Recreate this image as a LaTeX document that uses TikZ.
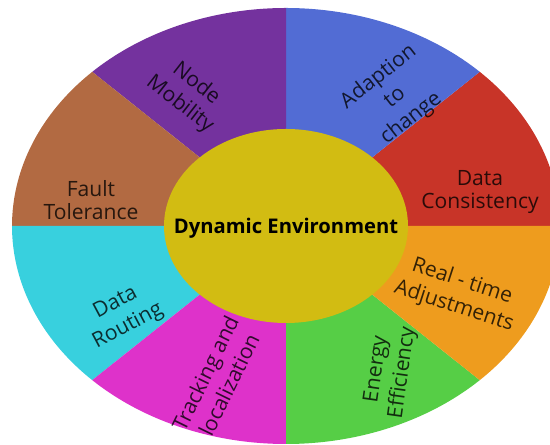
\documentclass[tikz,border=0pt]{standalone}
\usepackage{fontspec}
\setmainfont{Open Sans}
\definecolor{consist}{RGB}{200,52,40}
\definecolor{adapt}{RGB}{82,108,212}
\definecolor{mobility}{RGB}{116,50,158}
\definecolor{fault}{RGB}{178,106,66}
\definecolor{routing}{RGB}{56,208,222}
\definecolor{tracking}{RGB}{222,50,202}
\definecolor{energy}{RGB}{86,206,70}
\definecolor{realtime}{RGB}{238,156,30}
\definecolor{hubfill}{RGB}{210,188,18}
\tikzset{topic/.style={text=black,text opacity=0.78,align=center,inner sep=0pt,
                       font=\fontsize{12}{15}\selectfont}}
\tikzset{flat/.style={topic,font=\fontsize{12}{13}\selectfont}}
\tikzset{hub/.style={inner sep=0pt,font=\fontsize{11.5}{13}\selectfont\bfseries}}

\begin{document}
\begin{tikzpicture}[x=0.02cm,y=0.02cm]
    \useasboundingbox (-286,-219) rectangle (264,226);

    % outer ring
    \foreach \c [count=\i from 0] in {consist,adapt,mobility,fault,routing,tracking,energy,realtime}{
        \fill[\c] (0,0) -- (\i*45:274 and 218)
            arc[start angle=\i*45,delta angle=45,x radius=274,y radius=218] -- cycle;
    }

    % centre
    \fill[hubfill] (0,0) ellipse[x radius=122,y radius=97];
    \node[hub] (hub) at (0,-2) {Dynamic Environment};

    % topics
    \node[topic,rotate=-38] (mob) at (-98,132) {Node\\Mobility};
    \node[topic,rotate=38] (adp) at (109,128) {Adaption\\to\\change};
    \node[flat] (con) at (194,34) {Data\\Consistency};
    \node[flat] (flt) at (-195,26) {Fault\\Tolerance};
    \node[topic,rotate=28] (rte) at (-164,-89) {Data\\Routing};
    \node[topic,rotate=64] (trk) at (-69,-153) {Tracking and\\localization};
    \node[topic,rotate=82] (eng) at (104,-145) {Energy\\Efficiency};
    \node[topic,rotate=-18] (rtm) at (172,-68) {Real - time\\Adjustments};
\end{tikzpicture}
\end{document}
